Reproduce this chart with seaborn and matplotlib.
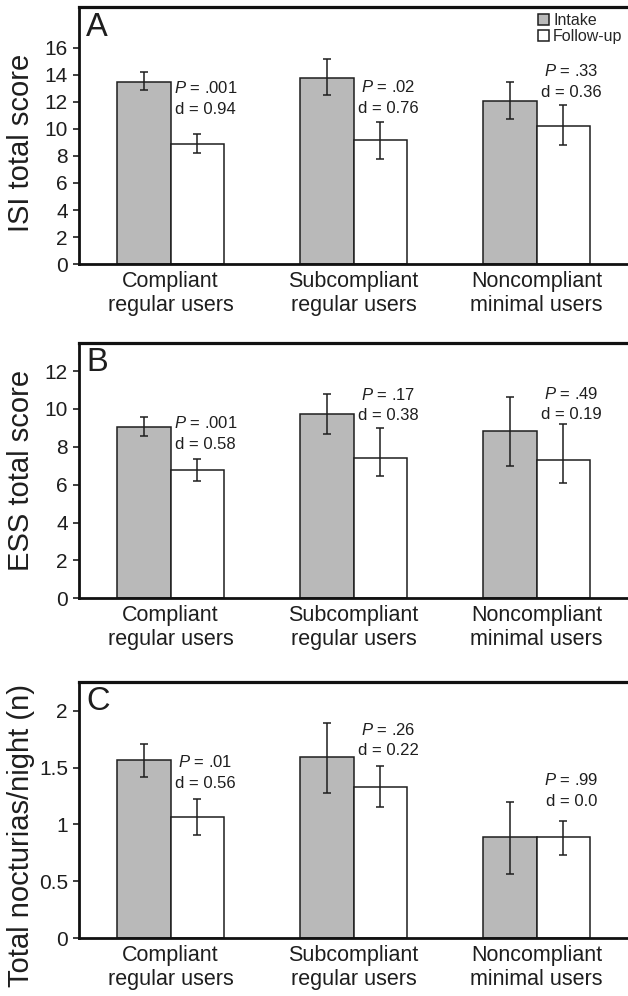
import numpy as np
import pandas as pd
import matplotlib
matplotlib.use("Agg")
import matplotlib.pyplot as plt
from matplotlib.ticker import FuncFormatter
import seaborn as sns

# ---- data -------------------------------------------------------------
groups = ["Compliant\nregular users", "Subcompliant\nregular users", "Noncompliant\nminimal users"]
times = ["Intake", "Follow-up"]

isi_intake = [13.5, 13.8, 12.1]
isi_followup = [8.85, 9.15, 10.2]
isi_intake_lo = [12.9, 12.55, 10.7]
isi_intake_hi = [14.2, 15.15, 13.45]
isi_followup_lo = [8.2, 7.8, 8.8]
isi_followup_hi = [9.6, 10.55, 11.75]
isi_p = [".001", ".02", ".33"]
isi_d = ["0.94", "0.76", "0.36"]

ess_intake = [9.05, 9.75, 8.85]
ess_followup = [6.8, 7.4, 7.3]
ess_intake_lo = [8.55, 8.7, 7.0]
ess_intake_hi = [9.6, 10.8, 10.65]
ess_followup_lo = [6.2, 6.45, 6.1]
ess_followup_hi = [7.35, 9.0, 9.2]
ess_p = [".001", ".17", ".49"]
ess_d = ["0.58", "0.38", "0.19"]

noc_intake = [1.57, 1.59, 0.885]
noc_followup = [1.065, 1.33, 0.89]
noc_intake_lo = [1.42, 1.28, 0.565]
noc_intake_hi = [1.71, 1.895, 1.2]
noc_followup_lo = [0.91, 1.155, 0.735]
noc_followup_hi = [1.225, 1.515, 1.03]
noc_p = [".01", ".26", ".99"]
noc_d = ["0.56", "0.22", "0.0"]

# ---- style ------------------------------------------------------------
sns.set_style("white")
plt.rcParams["font.family"] = ["Liberation Sans", "DejaVu Sans"]
plt.rcParams["mathtext.fontset"] = "custom"
plt.rcParams["mathtext.it"] = "Liberation Sans:italic"
plt.rcParams["mathtext.rm"] = "Liberation Sans"

BAR_GRAY = "#b9b9b9"
INK = "#1e1e1e"
palette = {"Intake": BAR_GRAY, "Follow-up": "white"}

fig = plt.figure(figsize=(6.28, 9.96), dpi=100)
left, width = 0.1258, 0.8742
ax_a = fig.add_axes([left, 0.7349, width, 0.2577])
ax_b = fig.add_axes([left, 0.3993, width, 0.2566])
ax_c = fig.add_axes([left, 0.0582, width, 0.2573])

panels = [
    dict(ax=ax_a, letter="A", ylabel="ISI total score", ylim=19, ticks=np.arange(0, 17, 2),
         intake=isi_intake, followup=isi_followup,
         ilo=isi_intake_lo, ihi=isi_intake_hi, flo=isi_followup_lo, fhi=isi_followup_hi,
         p=isi_p, d=isi_d, text_y=[12.25, 12.3, 13.5], label_y=0.473, legend=True),
    dict(ax=ax_b, letter="B", ylabel="ESS total score", ylim=13.5, ticks=np.arange(0, 13, 2),
         intake=ess_intake, followup=ess_followup,
         ilo=ess_intake_lo, ihi=ess_intake_hi, flo=ess_followup_lo, fhi=ess_followup_hi,
         p=ess_p, d=ess_d, text_y=[8.7, 10.2, 10.26], label_y=0.5, legend=False),
    dict(ax=ax_c, letter="C", ylabel="Total nocturias/night (n)", ylim=2.255,
         ticks=np.arange(0, 2.01, 0.5),
         intake=noc_intake, followup=noc_followup,
         ilo=noc_intake_lo, ihi=noc_intake_hi, flo=noc_followup_lo, fhi=noc_followup_hi,
         p=noc_p, d=noc_d, text_y=[1.454, 1.741, 1.298], label_y=0.40, legend=False),
]

for pnl in panels:
    ax = pnl["ax"]
    df = pd.DataFrame({
        "Group": groups * 2,
        "Time": [times[0]] * 3 + [times[1]] * 3,
        "Score": list(pnl["intake"]) + list(pnl["followup"]),
    })
    sns.barplot(data=df, x="Group", y="Score", hue="Time", hue_order=times,
                palette=palette, width=0.585, errorbar=None,
                edgecolor=INK, linewidth=1.1, ax=ax, legend=pnl["legend"])

    # error bars at the centres of the drawn bars
    series = [(pnl["intake"], pnl["ilo"], pnl["ihi"]),
              (pnl["followup"], pnl["flo"], pnl["fhi"])]
    for container, (vals, lo, hi) in zip(ax.containers, series):
        xs = [b.get_x() + b.get_width() / 2 for b in container]
        vals = np.asarray(vals)
        yerr = [vals - np.asarray(lo), np.asarray(hi) - vals]
        ax.errorbar(xs, vals, yerr=yerr, fmt="none", ecolor=INK,
                    elinewidth=1.1, capsize=2.6, capthick=1.1, zorder=5)

    # statistics above each follow-up bar
    for i, (pv, dv, ty) in enumerate(zip(pnl["p"], pnl["d"], pnl["text_y"])):
        ax.annotate(f"$P$ = {pv}", xy=(i + 0.19, ty), xytext=(0, 7.6),
                    textcoords="offset points", ha="center", va="center",
                    fontsize=12, color=INK)
        ax.annotate(f"d = {dv}", xy=(i + 0.19, ty), xytext=(0, -7.6),
                    textcoords="offset points", ha="center", va="center",
                    fontsize=12, color=INK)

    ax.set_xlim(-0.5, 2.5)
    ax.set_ylim(0, pnl["ylim"])
    ax.set_yticks(pnl["ticks"])
    ax.yaxis.set_major_formatter(FuncFormatter(lambda v, _: f"{v:g}"))
    ax.set_xlabel("")
    ax.set_ylabel(pnl["ylabel"], fontsize=21, color=INK)
    ax.yaxis.set_label_coords(-0.081, pnl["label_y"])

    ax.tick_params(axis="y", direction="out", length=4, width=1.2, pad=4,
                   labelsize=15, colors=INK, left=True)
    ax.tick_params(axis="x", length=0, pad=5, labelsize=15.5, colors=INK)

    for side in ["top", "left", "bottom"]:
        ax.spines[side].set_visible(True)
        ax.spines[side].set_color("#111111")
    ax.spines["top"].set_linewidth(2.3)
    ax.spines["left"].set_linewidth(2.0)
    ax.spines["bottom"].set_linewidth(2.0)
    ax.spines["right"].set_visible(False)

    ax.text(0.013, 0.983, pnl["letter"], transform=ax.transAxes,
            ha="left", va="top", fontsize=23.5, color=INK)

    if pnl["legend"]:
        handles, labels = ax.get_legend_handles_labels()
        ax.legend(handles, labels, loc="upper right", frameon=False,
                  fontsize=11.5, handlelength=0.7, handleheight=0.7,
                  handletextpad=0.25, labelspacing=0.05,
                  borderaxespad=0.15, borderpad=0.2)

fig.savefig("out.png", dpi=100)
